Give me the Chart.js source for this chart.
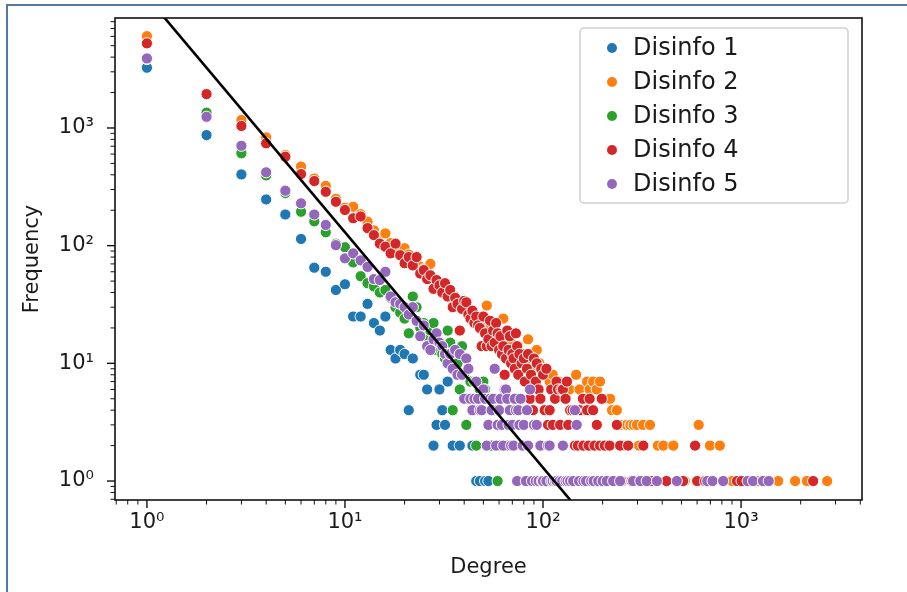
<!DOCTYPE html>
<html>
<head>
<meta charset="utf-8">
<script src="https://cdn.jsdelivr.net/npm/chart.js@4.4.1/dist/chart.umd.min.js"></script>
<style>
  html, body { margin: 0; padding: 0; background: #ffffff; }
  #wrap { position: relative; width: 907px; height: 592px; overflow: hidden; }
  #frame { position: absolute; left: 6px; top: 4px; width: 960px; height: 640px;
           border-left: 2px solid #56799f; border-top: 2px solid #56799f; pointer-events: none; }
  canvas { position: absolute; left: 0; top: 0; }
</style>
</head>
<body>
<div id="wrap">
  <canvas id="chart" width="907" height="592"></canvas>
  <div id="frame"></div>
</div>
<script>
// Degree distributions: [degree, frequency] pairs for each network
const seriesNames = ['Disinfo 1', 'Disinfo 2', 'Disinfo 3', 'Disinfo 4', 'Disinfo 5'];
const seriesColors = ['#1f77b4', '#ff7f0e', '#2ca02c', '#d62728', '#9467bd'];

const disinfo1 = [
  [1,3250],[2,870],[3,403],[4,247],[5,184],[6,114],[7,65],[8,60],[9,42],[10,47],
  [11,25],[12,25],[13,32],[14,22],[15,19],[16,25],[17,13],[18,11],[19,13],[20,12],
  [21,4],[22,11],[24,8],[25,8],[26,6],[28,2],[29,3],[30,6],[31,4],[32,3],[33,7],
  [35,2],[38,2],[44,2],[46,1],[48,1],[51,1],[53,1]
];

const disinfo2 = [
  [1,6030],[2,1950],[3,1167],[4,832],[5,590],[6,470],[7,372],[8,322],[9,250],[10,210],
  [11,214],[12,185],[13,160],[14,135],[15,118],[16,127],[17,105],[18,100],[19,92],[20,95],
  [21,84],[22,76],[23,72],[24,66],[25,63],[26,58],[27,70],[28,52],[29,50],[30,48],
  [31,44],[32,46],[33,41],[34,38],[35,38],[36,37],[37,34],[38,32],[39,30],[40,31],
  [41,29],[42,28],[43,27],[44,26],[45,24],[46,25],[47,23],[48,22],[49,21],[50,22],
  [51,20],[52,31],[53,19],[54,20],[55,18],[56,17],[58,19],[60,16],[62,15],[63,24],
  [65,16],[67,14],[69,15],[71,13],[73,12],[75,14],[78,11],[80,12],[84,16],[86,10],
  [89,9],[93,13],[96,10],[100,8],[104,9],[108,7],[112,8],[116,6],[120,7],[125,6],
  [130,5],[136,6],[141,4],[147,8],[153,6],[160,5],[167,7],[172,6],[179,7],[187,6],
  [194,7],[202,5],[212,5],[218,5],[223,4],[236,4],[245,3],[255,2],[265,3],[276,3],
  [287,3],[298,3],[305,2],[320,3],[347,3],[380,2],[405,2],[455,2],[520,1],[611,3],
  [697,2],[781,2],[900,1],[1200,1],[1540,1],[1875,1],[2150,1],[2720,1]
];

const disinfo3 = [
  [1,3850],[2,1350],[3,609],[4,395],[5,280],[6,194],[7,161],[8,130],[9,104],[10,97],
  [11,72],[12,55],[13,48],[14,45],[15,40],[16,42],[17,36],[18,30],[19,27],[20,24],
  [21,18],[22,37],[23,30],[24,20],[25,22],[26,17],[27,19],[28,22],[29,13],[30,15],
  [31,12],[32,11],[33,19],[34,15],[35,4],[36,9],[37,10],[38,6],[39,14],[40,8],
  [41,3],[42,5],[43,7],[44,4],[45,7],[46,2],[47,5],[48,6],[50,7],[51,6],
  [53,3],[55,2],[57,4],[59,1],[60,2],[62,3],[66,2],[75,4]
];

const disinfo4 = [
  [1,5240],[2,1940],[3,1040],[4,740],[5,570],[6,406],[7,354],[8,287],[9,236],[10,201],
  [11,171],[12,177],[13,141],[14,123],[15,104],[16,98],[17,86],[18,104],[19,83],[20,71],
  [21,80],[22,68],[23,80],[24,58],[25,62],[26,52],[27,56],[28,43],[29,51],[30,46],
  [31,40],[32,48],[33,37],[34,42],[35,30],[36,36],[37,32],[38,19],[39,29],[40,34],
  [41,33],[42,26],[43,24],[44,28],[45,22],[46,25],[47,21],[48,20],[49,14],[50,25],
  [51,18],[52,14],[53,16],[54,23],[55,14],[56,19],[57,15],[58,22],[59,18],[60,13],
  [61,17],[62,12],[63,14],[64,8],[65,11],[66,19],[67,13],[68,17],[69,10],[70,12],
  [71,11],[72,9],[73,18],[74,14],[75,8],[76,12],[78,10],[80,11],[81,7],[83,9],
  [84,12],[86,5],[87,8],[89,4],[90,11],[92,7],[93,10],[95,6],[97,5],[98,9],
  [100,8],[102,4],[104,9],[106,3],[108,4],[110,6],[112,3],[115,5],[117,7],[119,6],
  [122,3],[124,6],[126,6],[130,5],[132,7],[134,3],[137,4],[141,4],[145,2],[150,2],
  [153,4],[159,5],[160,2],[167,4],[170,2],[172,5],[179,4],[182,2],[187,3],[194,2],
  [198,5],[205,2],[217,2],[230,1],[236,3],[245,2],[250,1],[269,2],[280,1],[321,2],
  [350,1],[420,1],[510,1],[586,2],[600,1],[658,1],[954,1],[1006,1],[2312,1]
];

const disinfo5 = [
  [1,3900],[2,1245],[3,706],[4,420],[5,293],[6,229],[7,184],[8,150],[9,101],[10,78],
  [11,86],[12,75],[13,66],[14,52],[15,51],[16,60],[17,37],[18,33],[19,32],[20,30],
  [21,26],[22,30],[23,23],[24,17],[25,21],[26,14],[27,13],[28,16],[29,18],[30,15],
  [31,14],[32,12],[33,10],[34,12],[35,9],[36,13],[37,8],[38,12],[39,8],[40,5],
  [41,11],[42,9],[43,5],[44,4],[45,5],[46,7],[47,5],[48,4],[49,4],[50,6],
  [51,5],[52,2],[53,3],[54,5],[55,4],[56,5],[57,9],[58,2],[59,3],[60,4],
  [61,5],[62,3],[63,2],[64,6],[65,6],[66,5],[67,3],[68,4],[69,2],[70,3],
  [71,2],[72,5],[73,4],[74,1],[75,4],[76,3],[77,5],[79,2],[80,3],[82,1],
  [83,4],[84,2],[86,6],[88,1],[90,3],[92,1],[93,3],[95,1],[97,2],[99,1],
  [100,1],[104,1],[106,2],[108,2],[110,1],[112,1],[115,1],[117,1],[121,1],[125,1],
  [126,2],[130,1],[133,1],[137,1],[142,1],[145,4],[148,3],[152,1],[160,1],[165,1],
  [175,1],[180,1],[190,1],[200,1],[210,1],[226,1],[245,1],[285,1],[310,1],[334,1],
  [376,1],[474,1],[675,1],[718,1],[812,1],[1080,1],[1150,1],[1290,1],[1380,1]
];

// Fitted power-law guide line (endpoints), slope -2 on log-log axes
const fitLine = [[1, 13000], [200, 0.325]];

// Axis ranges and tick labels
const xRange = [0.69, 4080];
const yRange = [0.69, 8600];
const tickValues = [1, 10, 100, 1000];
const tickLabels = ['10\u2070', '10\u00b9', '10\u00b2', '10\u00b3'];

const allSeries = [disinfo1, disinfo2, disinfo3, disinfo4, disinfo5];
const toPoints = arr => arr.map(([x, y]) => ({ x, y }));

const FONT = "'DejaVu Sans', sans-serif";
const TEXT = '#1a1a1a';

const datasets = allSeries.map((arr, i) => ({
  type: 'scatter',
  label: seriesNames[i],
  data: toPoints(arr),
  backgroundColor: seriesColors[i],
  borderColor: '#ffffff',
  borderWidth: 1,
  pointRadius: 5.6,
  pointHoverRadius: 5.6,
  order: allSeries.length - i
}));

datasets.push({
  type: 'line',
  label: 'fit',
  data: toPoints(fitLine),
  borderColor: '#000000',
  borderWidth: 2.6,
  pointRadius: 0,
  fill: false,
  order: 0
});

const labelFor = v => {
  const idx = tickValues.findIndex(t => Math.abs(t - v) < 1e-9 * t);
  return idx >= 0 ? tickLabels[idx] : '';
};

// Box around the plot area plus major/minor log tick marks
const axesFrame = {
  id: 'axesFrame',
  afterDatasetsDraw(chart) {
    const { ctx, chartArea: a, scales: { x, y } } = chart;
    ctx.save();
    ctx.strokeStyle = '#111111';
    const seg = (x1, y1, x2, y2) => { ctx.beginPath(); ctx.moveTo(x1, y1); ctx.lineTo(x2, y2); ctx.stroke(); };
    for (let e = -1; e <= 4; e++) {
      for (let m = 1; m <= 9; m++) {
        const v = m * Math.pow(10, e);
        const major = m === 1;
        const len = major ? 8 : 4.5;
        ctx.lineWidth = major ? 1.4 : 1;
        if (v >= x.min && v <= x.max) {
          const px = x.getPixelForValue(v);
          seg(px, a.bottom, px, a.bottom + len);
        }
        if (v >= y.min && v <= y.max) {
          const py = y.getPixelForValue(v);
          seg(a.left - len, py, a.left, py);
        }
      }
    }
    ctx.lineWidth = 1.6;
    ctx.strokeRect(a.left, a.top, a.right - a.left, a.bottom - a.top);
    ctx.restore();
  }
};

// Framed legend inside the upper-right of the plot
const boxLegend = {
  id: 'boxLegend',
  afterDraw(chart) {
    const { ctx, chartArea: a } = chart;
    const x0 = a.right - 282, y0 = a.top + 10, w = 268, h = 175;
    ctx.save();
    ctx.fillStyle = 'rgba(255,255,255,0.85)';
    ctx.strokeStyle = '#cfcfcf';
    ctx.lineWidth = 1.5;
    ctx.beginPath();
    ctx.roundRect(x0, y0, w, h, 4);
    ctx.fill();
    ctx.stroke();
    ctx.font = "24px " + FONT;
    ctx.textBaseline = 'middle';
    ctx.fillStyle = TEXT;
    chart.data.datasets.filter(d => d.type === 'scatter').forEach((d, i) => {
      const cy = y0 + 20 + i * 34;
      ctx.beginPath();
      ctx.arc(x0 + 32, cy, 5, 0, Math.PI * 2);
      ctx.fillStyle = d.backgroundColor;
      ctx.fill();
      ctx.fillStyle = TEXT;
      ctx.fillText(d.label, x0 + 53, cy + 1);
    });
    ctx.restore();
  }
};

new Chart(document.getElementById('chart'), {
  data: { datasets },
  options: {
    responsive: false,
    animation: false,
    devicePixelRatio: 1,
    layout: { padding: { left: 0, top: 18, right: 45, bottom: 0 } },
    plugins: { legend: { display: false }, tooltip: { enabled: false } },
    scales: {
      x: {
        type: 'logarithmic',
        position: 'bottom',
        min: xRange[0],
        max: xRange[1],
        afterBuildTicks: s => { s.ticks = tickValues.map(v => ({ value: v, major: true })); },
        afterFit: s => { s.height = 92; s.paddingLeft = 0; s.paddingRight = 0; },
        grid: { display: false, drawTicks: false },
        border: { display: false },
        ticks: {
          autoSkip: false,
          maxRotation: 0,
          padding: 10,
          color: TEXT,
          font: { family: FONT, size: 21 },
          callback: v => labelFor(v)
        },
        title: {
          display: true,
          text: 'Degree',
          color: TEXT,
          font: { family: FONT, size: 21 },
          padding: { top: 0, bottom: 12 }
        }
      },
      y: {
        type: 'logarithmic',
        position: 'left',
        min: yRange[0],
        max: yRange[1],
        afterBuildTicks: s => { s.ticks = tickValues.map(v => ({ value: v, major: true })); },
        afterFit: s => { s.width = 115; s.paddingTop = 0; s.paddingBottom = 0; },
        grid: { display: false, drawTicks: false },
        border: { display: false },
        ticks: {
          autoSkip: false,
          padding: 21,
          color: TEXT,
          font: { family: FONT, size: 21 },
          callback: v => labelFor(v)
        },
        title: {
          display: true,
          text: 'Frequency',
          color: TEXT,
          font: { family: FONT, size: 21 },
          padding: { top: 20, bottom: 0 }
        }
      }
    }
  },
  plugins: [axesFrame, boxLegend]
});
</script>
</body>
</html>
